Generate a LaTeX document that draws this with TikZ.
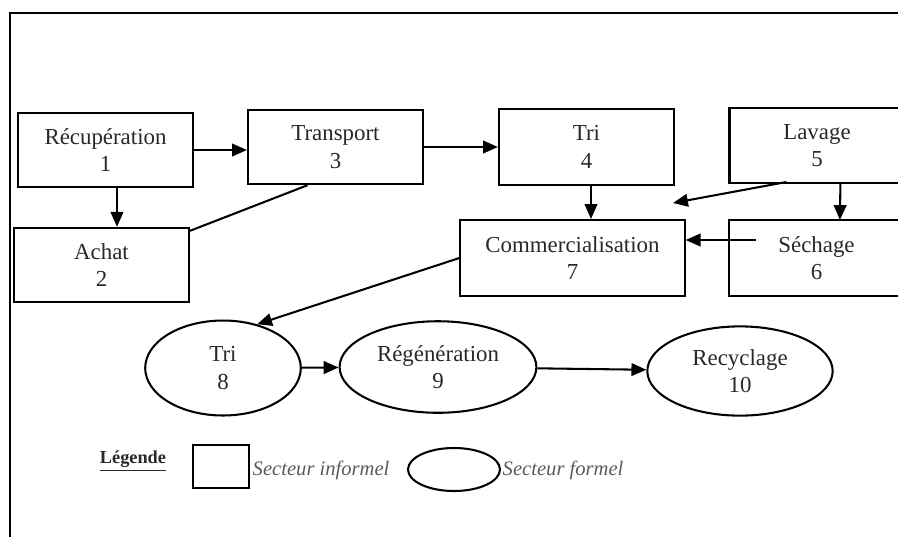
\documentclass[tikz,border=0pt]{standalone}
\usepackage{fontspec}
\setmainfont{Liberation Serif}
\usepackage{tikz}
\usetikzlibrary{arrows.meta}
\usetikzlibrary{shapes,calc}
\definecolor{mytext}{RGB}{40,40,40}
\definecolor{mylegend}{RGB}{90,90,90}

\begin{document}
\begin{tikzpicture}[x=0.437pt,y=-0.437pt]
	\useasboundingbox (0,0) rectangle (898,536);
	\clip (0,0) rectangle (898,536);
	\draw[line width=1pt] (10,600) -- (10,13) -- (1000,13);

	\begin{scope}[every node/.style={draw,rectangle,line width=0.9pt,align=center,text=mytext,minimum width=76.5pt,minimum height=32.5pt}]
	    \node (recup) at (105.5,150) {Récupération\\1};
	    \node (achat) at (101.5,265) {Achat\\2};
	    \node (transport) at (335.5,147) {Transport\\3};
	    \node (tri) [minimum height=33.2pt] at (586.5,147) {Tri\\4};
	    \node (lavage) at (817,145.5) {Lavage\\5};
	    \node (comm) [minimum width=98pt,minimum height=33.2pt] at (572.5,258) {Commercialisation\\7};
	    \node (sechage) [minimum height=33.2pt] at (816.5,258) {Séchage\\6};
	\end{scope}

	\begin{scope}[every node/.style={draw,ellipse,line width=0.9pt,align=center,text=mytext,inner sep=0pt}]
	    \node (trif) [minimum width=68pt,minimum height=41.5pt] at (223,368) {Tri\\8};
	    \node (regen) [minimum width=86pt,minimum height=40pt] at (438,367) {Régénération\\9};
	    \node (recyc) [minimum width=81pt,minimum height=39pt] at (740,371) {Recyclage\\10};
	\end{scope}

	\coordinate (vers) at (673,203);
	\begin{scope}[>={Triangle[length=6.5pt,width=5.5pt]},
	              every edge/.style={draw=black,line width=0.9pt}]
    	\path [->] (recup) edge (recup -| transport.west);
    	\path [->] (transport) edge (tri);
    	\path [->] ($(recup.south)+(11.5,0)$) edge ($(achat.north)+(15.5,0)$);
    	\path ($(achat.north east)+(0,4)$) edge ($(transport.south)+(-28,0)$);
    	\path [->] ($(tri.south)+(4.5,0)$) edge ($(comm.north)+(18.5,0)$);
    	\path [->] ($(lavage.west)+(58,36.5)$) edge (vers);
    	\path [->] ($(lavage.west)+(112,36.5)$) edge ($(sechage.west)+(112,-38)$);
    	\path [->] ($(sechage.west)+(28,-18)$) edge ($(comm.east)+(0,-18)$);
    	\path [->] (comm.west) edge (trif.52);
    	\path [->] (trif) edge (regen);
    	\path [->] (regen) edge (recyc);
	\end{scope}

	% legende
	\node[font=\footnotesize\bfseries,text=mytext] (legende) at (133,461) {\underline{Légende}};
	\node[draw,line width=0.9pt,minimum width=24.5pt,minimum height=18.8pt] (carre) at (221,466.5) {};
	\node[anchor=west,font=\small\itshape,text=mylegend,inner sep=1pt] (informel) at (250,470) {Secteur informel};
	\node[draw,ellipse,line width=0.9pt,minimum width=40.2pt,minimum height=18.8pt,inner sep=0pt] (ovale) at (454,469.5) {};
	\node[anchor=west,font=\small\itshape,text=mylegend,inner sep=1pt] (formel) at (500,470) {Secteur formel};
\end{tikzpicture}
\end{document}
